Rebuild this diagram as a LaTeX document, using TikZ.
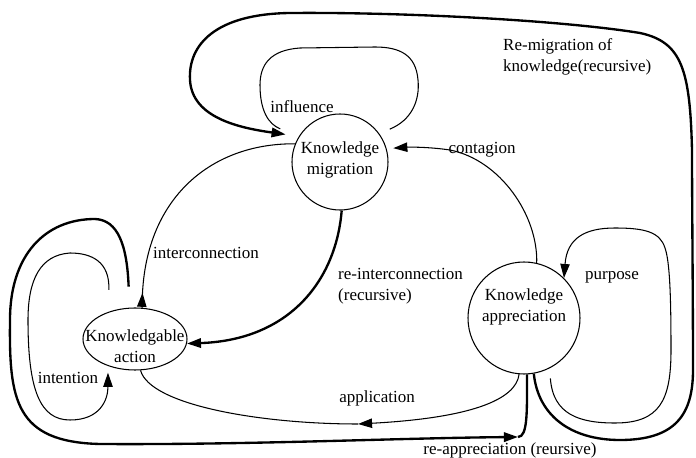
\documentclass[tikz,border=0pt]{standalone}
\usepackage{fontspec}
\setmainfont{Liberation Serif}
\usetikzlibrary{arrows.meta,shapes.geometric,decorations.markings}
\tikzset{
  thinline/.style={line width=0.9pt},
  thickline/.style={line width=2pt},
  tipped/.style={-{Triangle[length=12pt,width=8pt]}},
  lbl/.style={font=\fontsize{14.5}{18}\selectfont, inner sep=0pt},
  statenode/.style={draw, thinline, inner sep=0pt},
}
\begin{document}
\begin{tikzpicture}[x=0.03cm, y=-0.03cm]
\useasboundingbox (0,0) rectangle (696,458);
% nodes
\node[statenode, circle, minimum size=2.88cm,
  label={[lbl,align=center,yshift=0.06cm]center:{Knowledge\\migration}}] (mig) at (340,162) {};
\node[statenode, circle, minimum size=3.36cm,
  label={[lbl,align=center,yshift=0.33cm]center:{Knowledge\\appreciation}}] (app) at (524,318) {};
\node[statenode, ellipse, minimum width=3.12cm, minimum height=1.86cm,
  label={[lbl,align=center,yshift=-0.21cm]center:{Knowledgable\\action}}] (act) at (135,339) {};
% free-end coordinates
\coordinate (reapp) at (518,437);
\coordinate (appl) at (358,424);
% contagion
\draw[thinline, tipped, shorten >=0.2cm] (app.77) .. controls (538,215) and (500,160) .. (450,150)
  .. controls (430,147) and (410,147) .. (mig.16);
% influence loop
\draw[thinline, shorten <=0.34cm, shorten >=0.6cm] (mig.36) .. controls (412,120) and (420,100) .. (418,80)
  .. controls (416,55) and (400,47) .. (375,47) -- (300,48)
  .. controls (270,50) and (260,65) .. (260,85)
  .. controls (260,110) and (268,124) .. (mig.148);
% re-migration (thick)
\draw[thickline, tipped, shorten >=0.4cm] (app.-80) .. controls (538,415) and (570,440) .. (620,440)
  .. controls (675,440) and (693,415) .. (693,370)
  .. controls (693,300) and (692,200) .. (692,150)
  .. controls (690,70) and (682,42) .. (640,33)
  .. controls (560,20) and (400,12) .. (290,13)
  .. controls (215,14) and (188,45) .. (190,80)
  .. controls (192,118) and (240,128) .. (mig.148);
% interconnection
\draw[thinline, postaction={decorate},
  decoration={markings, mark=at position 0.45cm with {\arrow{Triangle[length=12pt,width=8pt]}}}]
  (act.77) .. controls (141,200) and (210,143) .. (mig.158);
% re-interconnection (thick)
\draw[thickline, tipped] (mig.272) .. controls (336,280) and (290,340) .. (act.-5);
% purpose loop
\draw[thinline, tipped, shorten <=0.3cm] (app.-63) .. controls (553,415) and (580,423) .. (615,423)
  .. controls (660,423) and (671,400) .. (671,350)
  .. controls (671,300) and (670,262) .. (665,248)
  .. controls (660,232) and (645,228) .. (615,228)
  .. controls (585,228) and (567,238) .. (app.45);
% application
\draw[thinline, tipped] (app.-95) .. controls (516,400) and (470,418) .. (appl);
\draw[thinline] (appl) .. controls (260,424) and (150,405) .. (act.-80);
% intention loop
\draw[thinline, tipped, shorten <=0.66cm, shorten >=0.2cm] (act.135) .. controls (110,262) and (92,253) .. (70,253)
  .. controls (40,255) and (28,280) .. (28,320)
  .. controls (28,390) and (40,420) .. (70,420)
  .. controls (100,420) and (108,400) .. (act.225);
% re-appreciation (thick)
\draw[thickline, tipped, shorten <=0.63cm] (act.100) .. controls (127,245) and (118,220) .. (95,219)
  .. controls (45,219) and (10,255) .. (10,320)
  .. controls (9,400) and (15,442) .. (100,444)
  .. controls (250,445) and (400,438) .. (reapp);
\draw[thickline] (reapp) .. controls (528,437) and (527,410) .. (app.-87);
% labels
\node[lbl, align=left, anchor=west] (lremig) at (503,57) {Re-migration of\\knowledge(recursive)};
\node[lbl] (linfl) at (302,107) {influence};
\node[lbl] (lcont) at (482,150) {contagion};
\node[lbl, anchor=west] (linter) at (153,253) {interconnection};
\node[lbl, align=left, anchor=west] (lreint) at (338,286) {re-interconnection\\(recursive)};
\node[lbl] (lpurp) at (612,277) {purpose};
\node[lbl] (lappl) at (377,398) {application};
\node[lbl] (linten) at (68,378) {intention};
\node[lbl] (lreapp) at (510,450) {re-appreciation (reursive)};
\end{tikzpicture}
\end{document}
